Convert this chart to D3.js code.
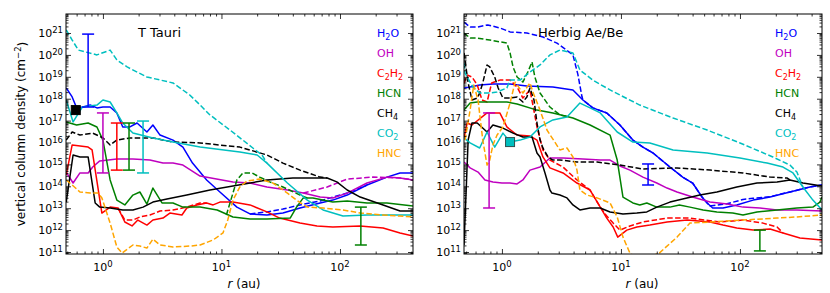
<!DOCTYPE html>
<html>
<head>
<meta charset="utf-8">
<script src="https://cdn.jsdelivr.net/npm/d3@7"></script>
<style>
  body { margin: 0; background: #fff; }
  text { font-family: "DejaVu Sans", sans-serif; }
</style>
</head>
<body>
<svg id="chart" width="830" height="293"></svg>
<script>
// values are [r (au), log10 N (cm^-2)]
const species = ["H2O", "OH", "C2H2", "HCN", "CH4", "CO2", "HNC"];
const speciesLabel = ["H_2O", "OH", "C_2H_2", "HCN", "CH_4", "CO_2", "HNC"];
const speciesColor = ["#0000ff", "#bf00bf", "#ff0000", "#008000", "#000000", "#00bfbf", "#ffa500"];
const yExponents = [11, 12, 13, 14, 15, 16, 17, 18, 19, 20, 21];
const xExponents = [0, 1, 2];

// ---- T Tauri ----
const ttH2O = [[0.49,18.49],[0.55,18.08],[0.60,17.58],[0.68,17.62],[0.78,17.71],[0.89,17.58],[1.0,17.62],[1.15,17.62],[1.31,17.35],[1.47,16.71],[1.69,16.71],[1.94,16.89],[2.35,16.48],[2.64,16.80],[3.03,16.34],[3.90,16.11],[4.73,15.79],[5.7,15.06],[7.5,14.29],[9.7,13.74],[13.5,13.05],[17.4,12.74],[24.2,12.69],[33,12.78],[46,13.01],[68,13.24],[87,13.37],[115,13.60],[169,14.06],[249,14.42],[321,14.61],[413,14.61]];
const ttH2Od = [[17.4,12.74],[24.2,12.83],[33,12.96],[46,13.15],[68,13.33],[87,13.51],[115,13.69],[169,14.06]];
const ttOH = [[0.49,14.65],[0.56,14.15],[0.64,14.61],[0.75,14.61],[0.82,14.88],[0.94,15.16],[1.31,15.25],[1.79,15.25],[2.49,15.20],[3.21,15.06],[3.90,15.06],[4.73,14.97],[6.6,14.47],[12.5,14.20],[17.4,14.15],[24.2,13.97],[36,13.83],[49,13.69],[68,13.51],[87,13.47],[115,13.69],[169,14.15],[249,14.42],[321,14.38],[413,14.29]];
const ttOHd = [[49,13.69],[78,13.97],[115,14.33],[190,14.42],[321,14.38],[413,14.29]];
const ttC2H2 = [[0.49,14.52],[0.55,15.89],[0.75,15.79],[0.81,15.66],[0.98,12.78],[1.15,13.05],[1.34,13.01],[1.53,12.37],[1.76,12.19],[1.97,12.46],[2.35,12.23],[2.64,12.46],[3.21,12.55],[3.67,12.78],[4.64,12.69],[5.1,13.01],[6.2,13.15],[7.5,13.24],[8.5,13.15],[9.7,13.28],[12.5,13.28],[17.4,13.15],[24.2,12.83],[31,12.55],[46,12.32],[64,12.19],[87,12.14],[148,12.19],[231,12.10],[321,11.87],[413,11.73]];
const ttC2H2d = [[1.34,13.01],[1.53,12.46],[1.79,12.46],[2.05,12.60],[2.49,12.69],[3.03,12.87],[3.90,12.92],[5.1,13.05],[6.6,13.24],[7.5,13.24]];
const ttHCN = [[0.49,16.94],[0.60,16.80],[0.75,16.89],[0.89,16.71],[1.0,16.11],[1.15,14.29],[1.31,13.37],[1.53,13.15],[1.79,13.60],[2.05,13.74],[2.35,13.19],[2.64,13.92],[3.15,13.24],[3.90,13.24],[4.73,13.05],[6.6,13.05],[9.2,12.92],[12.5,12.60],[17.4,12.51],[24.2,12.51],[38,12.55],[43,13.05],[49,13.47],[59,13.47],[87,13.28],[115,13.33],[169,13.24],[249,13.24],[413,13.10]];
const ttHCNd = [[11.0,12.69],[11.8,13.24],[13.5,14.29],[15.2,14.61],[18.1,14.61],[21,14.42],[25.6,14.20],[33,13.97],[46,13.60],[53,13.47]];
const ttCH4 = [[0.49,13.28],[0.56,15.43],[0.64,15.34],[0.75,15.34],[0.86,13.24],[0.94,13.05],[1.15,13.01],[1.47,12.92],[1.79,12.92],[2.18,13.05],[2.64,13.28],[3.47,13.42],[5.1,13.60],[8.0,13.83],[12.5,14.01],[24.2,14.29],[40,14.38],[64,14.38],[78,14.38],[94,14.20],[115,13.83],[148,13.51],[231,13.15],[321,12.87],[413,12.87]];
const ttCH4d = [[0.49,16.11],[0.55,16.48],[0.64,16.34],[0.82,16.43],[1.0,16.21],[1.15,15.89],[1.31,16.11],[1.69,16.21],[2.64,16.21],[3.90,16.02],[6.6,15.98],[14.3,15.79],[24.2,15.43],[33,15.06],[46,14.74],[68,14.42],[78,14.38]];
const ttCO2 = [[0.49,17.94],[0.56,16.94],[0.67,17.62],[0.89,17.71],[1.0,17.94],[1.15,17.85],[1.31,17.35],[1.47,16.89],[1.79,16.43],[2.64,16.21],[3.90,16.02],[6.6,15.79],[14.3,15.57],[20,15.43],[24.2,15.06],[36,14.15],[53,13.37],[72,12.92],[106,12.64],[169,12.69],[413,12.69]];
const ttCO2d = [[0.49,21.14],[0.55,20.68],[0.62,20.22],[0.89,20.0],[1.15,20.22],[1.31,19.77],[1.60,19.45],[2.35,18.99],[3.90,18.72],[5.4,18.17],[6.6,17.71],[8.0,17.26],[11.8,16.57],[18.4,15.75],[22,15.43],[24.2,15.06]];
const ttHNCd = [[0.49,14.29],[0.55,14.06],[0.64,13.74],[0.78,13.69],[0.91,13.69],[0.98,13.47],[1.15,12.32],[1.31,11.23],[1.45,10.95],[1.79,11.32],[2.05,11.27],[2.35,11.18],[2.64,11.59],[3.03,11.32],[3.90,11.23],[5.4,11.27],[6.6,11.32],[8.5,11.55],[10.3,11.87],[11.3,12.46],[12.5,13.37],[14.3,13.97],[16.4,14.24],[21,14.33],[27.2,14.15],[36,13.69],[43,13.37],[53,13.05],[72,13.01],[106,12.92],[148,12.78],[231,12.69],[321,12.64],[413,12.60]];
const ttErrors = [
  { sp: "H2O", r: 0.75, lo: 17.62, hi: 20.95 },
  { sp: "OH", r: 1.0, lo: 14.61, hi: 17.35 },
  { sp: "C2H2", r: 1.31, lo: 14.74, hi: 16.89 },
  { sp: "HCN", r: 1.66, lo: 14.74, hi: 16.89 },
  { sp: "CO2", r: 2.18, lo: 14.61, hi: 16.98 },
  { sp: "HCN", r: 150, lo: 11.32, hi: 13.05 }
];
const ttMarker = [0.59, 17.48];

// ---- Herbig Ae/Be ----
const haH2O = [[0.48,18.49],[0.54,18.53],[0.65,18.63],[0.84,18.67],[1.17,18.67],[1.62,18.58],[2.68,18.53],[3.95,18.40],[4.79,17.94],[5.8,17.58],[7.6,17.35],[9.8,16.8],[12.6,16.11],[15.3,15.79],[18.6,15.52],[25.8,14.88],[33,14.42],[40,14.15],[48,13.51],[53,13.24],[59,13.01],[72,13.01],[94,13.15],[129,13.37],[179,13.51],[263,13.74],[387,13.97],[489,14.06]];
const haH2Od = [[0.48,21.50],[0.54,21.27],[0.62,21.27],[0.76,21.37],[0.96,21.23],[1.17,21.05],[1.62,21.0],[2.21,20.82],[2.90,20.54],[3.95,20.0],[4.35,19.1],[4.70,18.1],[4.79,17.94],[5.8,17.58],[7.6,17.35],[9.8,16.8],[12.6,16.11],[15.3,15.79],[18.6,15.52],[25.8,14.88],[33,14.42],[40,14.15],[48,13.51],[53,13.24],[56,13.10],[78,13.2],[106,13.4],[129,13.45],[179,13.53],[263,13.74],[387,13.97],[489,14.06]];
const haOH = [[0.48,15.11],[0.54,14.84],[0.63,14.65],[0.72,14.29],[0.84,14.20],[1.0,14.15],[1.17,14.15],[1.34,14.11],[1.50,14.29],[1.72,14.74],[2.09,14.88],[2.53,15.29],[3.26,15.29],[4.79,15.25],[6.7,15.20],[8.1,15.20],[9.8,14.93],[11.9,14.74],[15.3,14.42],[20,14.15],[24.4,13.92],[29.6,13.74],[40,13.51],[56,13.28],[78,13.19],[106,13.05],[147,13.01],[205,12.92],[301,12.92],[489,12.87]];
const haC2H2 = [[0.48,16.2],[0.51,16.89],[0.56,16.80],[0.75,17.35],[0.96,17.35],[1.10,16.71],[1.34,16.34],[1.72,16.30],[1.97,16.11],[2.21,15.34],[2.53,14.84],[3.26,14.61],[4.27,14.15],[5.5,13.83],[6.7,13.05],[7.6,12.55],[8.6,12.14],[9.4,11.68],[11.2,12.0],[13.6,12.14],[17.5,12.23],[24.4,12.37],[36,12.46],[56,12.37],[72,12.23],[94,12.10],[129,12.0],[179,12.05],[230,11.87],[319,11.64],[489,11.55]];
const haC2H2d = [[0.48,18.7],[0.51,19.08],[0.56,18.99],[0.62,18.63],[0.68,17.94],[0.75,17.85],[0.82,18.72],[0.96,18.85],[1.17,18.85],[1.34,18.53],[1.50,18.03],[1.72,18.40],[1.82,17.71],[1.97,16.71],[2.21,15.66],[2.53,15.20],[3.26,14.88],[4.27,14.29],[5.5,13.83],[6.7,13.05],[7.6,12.64],[8.6,12.32],[9.8,12.00],[11.9,12.19],[15.3,12.37],[24.4,12.55],[38,12.55],[68,12.37],[106,12.46],[156,12.32],[205,12.14],[230,11.87]];
const haHCN = [[0.48,17.48],[0.54,17.80],[0.62,17.85],[0.84,17.85],[1.10,17.85],[1.34,17.76],[1.97,17.48],[2.68,17.35],[3.95,17.12],[5.5,16.80],[8.1,16.34],[9.3,15.20],[10.4,13.51],[12.6,13.24],[14.4,13.15],[16.5,13.24],[20,13.05],[25.8,13.05],[31,13.15],[38,13.05],[49,12.92],[64,12.83],[87,12.78],[106,12.69],[139,12.83],[205,12.92],[301,13.01],[410,13.05],[470,13.28],[489,13.51]];
const haHCNd = [[0.48,21.0],[0.54,20.77],[0.62,20.77],[0.79,20.68],[1.10,20.54],[1.17,20.09],[1.24,19.45],[1.34,18.99],[1.50,18.76],[1.65,19.22],[1.79,19.68],[1.89,18.99],[2.09,18.26],[2.53,17.62],[3.07,17.26],[3.52,17.2]];
const haCH4 = [[0.48,11.32],[0.52,16.11],[0.56,16.89],[0.62,16.89],[0.75,16.48],[0.84,16.80],[1.02,16.66],[1.24,16.43],[1.50,16.25],[1.79,16.25],[1.97,15.52],[2.09,15.34],[2.30,14.61],[2.53,13.83],[2.63,13.69],[3.07,13.60],[3.52,13.47],[3.95,13.15],[4.52,12.92],[5.5,13.01],[6.7,13.01],[8.1,12.83],[10.4,12.74],[13.6,12.78],[16.5,12.83],[20,13.05],[25.8,13.28],[33,13.42],[46,13.60],[64,13.74],[94,13.97],[139,14.15],[205,14.20],[263,14.29],[338,14.15],[489,14.01]];
const haCH4d = [[0.48,20.09],[0.52,18.72],[0.56,17.94],[0.62,18.03],[0.65,18.26],[0.69,18.72],[0.75,19.54],[0.79,19.45],[0.87,18.99],[0.93,18.49],[1.02,18.03],[1.17,18.03],[1.34,18.08],[1.50,17.85],[1.62,18.08],[1.72,18.49],[1.86,17.94],[1.97,16.89],[2.09,16.11],[2.21,15.75],[2.44,15.34],[2.68,15.20],[3.07,15.20],[4.27,15.11],[6.3,15.11],[9.8,14.97],[15.3,14.79],[29.6,14.84],[56,14.74],[106,14.61],[179,14.42],[248,14.38],[263,14.29]];
const haCO2 = [[0.48,16.21],[0.54,15.98],[0.65,15.75],[0.75,16.48],[0.87,15.79],[1.02,16.43],[1.17,16.02],[1.42,16.11],[1.72,16.25],[2.09,16.71],[2.68,17.03],[3.52,17.16],[4.52,17.80],[5.5,17.58],[6.7,17.35],[9.3,16.48],[12.6,16.02],[17.5,15.98],[27.4,15.66],[53,15.52],[100,15.29],[169,15.06],[230,14.88],[279,14.61],[338,13.97],[410,13.37],[489,12.92]];
const haCO2d = [[0.48,19.63],[0.49,19.17],[0.57,18.53],[0.65,18.26],[0.79,18.26],[0.91,18.31],[1.10,18.49],[1.17,18.85],[1.42,18.85],[1.72,19.22],[2.09,19.54],[2.53,20.0],[3.07,20.22],[3.95,20.09],[4.52,19.31],[5.8,18.85],[8.1,18.40],[9.8,18.17],[14.4,17.71],[27.4,17.12],[53,16.57],[100,15.98],[189,15.34],[263,14.97],[301,14.65],[338,13.97]];
const haHNCd = [[0.49,16.11],[0.54,17.48],[0.58,18.63],[0.63,17.94],[0.69,16.11],[0.75,14.97],[0.79,15.20],[0.84,15.89],[0.91,16.34],[1.02,16.71],[1.17,17.80],[1.29,18.76],[1.50,18.26],[1.72,18.72],[1.82,18.31],[2.09,17.48],[2.39,16.57],[3.07,15.66],[3.52,15.75],[3.95,15.34],[4.27,14.74],[4.52,13.83],[5.2,13.60],[6.3,13.47],[8.1,13.24],[9.3,12.60],[10.4,11.68],[11.9,10.95],[14.4,10.6],[21,10.95],[29.6,11.68],[38,12.32],[56,12.37],[106,12.46],[205,12.55],[301,12.60],[489,12.69]];
const haErrors = [
  { sp: "OH", r: 0.78, lo: 13.01, hi: 17.35 },
  { sp: "H2O", r: 16.9, lo: 14.06, hi: 15.02 },
  { sp: "HCN", r: 147, lo: 11.05, hi: 12.0 }
];
const haMarker = [1.17, 16.02];

// ---- layout ----
const plotTop = 14, plotBottom = 254;
const yDomain = [10 ** 10.909, 10 ** 21.868];

const panels = [
  {
    title: "T Tauri", left: 66, right: 413, xDomain: [0.488, 413], titleX: 138, legendX: 377, xLabelX: 244,
    solid: { H2O: ttH2O, OH: ttOH, C2H2: ttC2H2, HCN: ttHCN, CH4: ttCH4, CO2: ttCO2 },
    dashed: { H2O: ttH2Od, OH: ttOHd, C2H2: ttC2H2d, HCN: ttHCNd, CH4: ttCH4d, CO2: ttCO2d, HNC: ttHNCd },
    errors: ttErrors, marker: ttMarker, markerFill: "#000000", markerStroke: "#000000", yTitle: true
  },
  {
    title: "Herbig Ae/Be", left: 464, right: 822, xDomain: [0.48, 489], titleX: 538, legendX: 775, xLabelX: 642,
    solid: { H2O: haH2O, OH: haOH, C2H2: haC2H2, HCN: haHCN, CH4: haCH4, CO2: haCO2 },
    dashed: { H2O: haH2Od, C2H2: haC2H2d, HCN: haHCNd, CH4: haCH4d, CO2: haCO2d, HNC: haHNCd },
    errors: haErrors, marker: haMarker, markerFill: "#00bfbf", markerStroke: "#2f4f4f", yTitle: false
  }
];

const svg = d3.select("#chart");
const defs = svg.append("defs");

function colorOf(sp) { return speciesColor[species.indexOf(sp)]; }

function supLabel(sel, base, exp) {
  sel.text(base);
  sel.append("tspan").attr("dy", "-0.45em").attr("font-size", "8.5px").text(exp);
}

panels.forEach((p, pi) => {
  const x = d3.scaleLog().domain(p.xDomain).range([p.left, p.right]);
  const y = d3.scaleLog().domain(yDomain).range([plotBottom, plotTop]);
  const line = d3.line().x(d => x(d[0])).y(d => y(10 ** d[1]));

  const clipId = `clip${pi}`;
  defs.append("clipPath").attr("id", clipId).append("rect")
    .attr("x", p.left).attr("y", plotTop)
    .attr("width", p.right - p.left).attr("height", plotBottom - plotTop);

  const plot = svg.append("g").attr("clip-path", `url(#${clipId})`);

  species.forEach(sp => {
    if (p.solid[sp]) plot.append("path")
      .attr("d", line(p.solid[sp]))
      .attr("fill", "none").attr("stroke", colorOf(sp))
      .attr("stroke-width", 1.5).attr("stroke-linejoin", "round");
    if (p.dashed[sp]) plot.append("path")
      .attr("d", line(p.dashed[sp]))
      .attr("fill", "none").attr("stroke", colorOf(sp))
      .attr("stroke-width", 1.5).attr("stroke-dasharray", "5.5,2.4")
      .attr("stroke-linejoin", "round");
  });

  // error bars
  p.errors.forEach(e => {
    const g = plot.append("g").attr("stroke", colorOf(e.sp)).attr("stroke-width", 1.5);
    const cx = x(e.r), y0 = y(10 ** e.lo), y1 = y(10 ** e.hi);
    g.append("line").attr("x1", cx).attr("x2", cx).attr("y1", y0).attr("y2", y1);
    g.append("line").attr("x1", cx - 6).attr("x2", cx + 6).attr("y1", y0).attr("y2", y0);
    g.append("line").attr("x1", cx - 6).attr("x2", cx + 6).attr("y1", y1).attr("y2", y1);
  });

  // square marker
  plot.append("rect")
    .attr("x", x(p.marker[0]) - 4.5).attr("y", y(10 ** p.marker[1]) - 4.5)
    .attr("width", 9).attr("height", 9)
    .attr("fill", p.markerFill).attr("stroke", p.markerStroke).attr("stroke-width", 1);

  // frame
  svg.append("rect")
    .attr("x", p.left).attr("y", plotTop)
    .attr("width", p.right - p.left).attr("height", plotBottom - plotTop)
    .attr("fill", "none").attr("stroke", "#000").attr("stroke-width", 1);

  // ticks, inward on all sides
  const xMajor = xExponents.map(e => 10 ** e);
  const xMinor = [];
  for (let e = -1; e <= 2; e++) for (let k = 2; k <= 9; k++) {
    const v = k * 10 ** e;
    if (v >= p.xDomain[0] && v <= p.xDomain[1]) xMinor.push(v);
  }
  const yMajor = yExponents.map(e => 10 ** e);
  const yMinor = [];
  for (let e = 10; e <= 21; e++) for (let k = 2; k <= 9; k++) {
    const v = k * 10 ** e;
    if (v >= yDomain[0] && v <= yDomain[1]) yMinor.push(v);
  }

  const axes = [
    [d3.axisBottom(x), `translate(0,${plotBottom})`, xMajor, xMinor],
    [d3.axisTop(x), `translate(0,${plotTop})`, xMajor, xMinor],
    [d3.axisLeft(y), `translate(${p.left},0)`, yMajor, yMinor],
    [d3.axisRight(y), `translate(${p.right},0)`, yMajor, yMinor]
  ];
  axes.forEach(([axis, tr, major, minor]) => {
    [[major, 5], [minor, 2.5]].forEach(([vals, len]) => {
      const g = svg.append("g").attr("transform", tr)
        .call(axis.tickValues(vals).tickSizeInner(-len).tickSizeOuter(0).tickFormat(""));
      g.select(".domain").remove();
      g.selectAll("line").attr("stroke", "#000").attr("stroke-width", 0.8);
    });
  });

  // tick labels
  yExponents.forEach(e => {
    svg.append("text")
      .attr("x", p.left - 3).attr("y", y(10 ** e)).attr("dy", "0.36em")
      .attr("text-anchor", "end").attr("font-size", "11px")
      .call(t => supLabel(t, "10", e));
  });
  xExponents.forEach(e => {
    svg.append("text")
      .attr("x", x(10 ** e)).attr("y", 271)
      .attr("text-anchor", "middle").attr("font-size", "11px")
      .call(t => supLabel(t, "10", e));
  });

  // x label
  const xl = svg.append("text").attr("x", p.xLabelX).attr("y", 288)
    .attr("text-anchor", "middle").attr("font-size", "12px");
  xl.append("tspan").attr("font-style", "italic").text("r");
  xl.append("tspan").text(" (au)");

  // title
  svg.append("text").attr("x", p.titleX).attr("y", 37)
    .attr("font-size", "13px").text(p.title);

  // legend labels
  speciesLabel.forEach((lab, i) => {
    const t = svg.append("text").attr("x", p.legendX).attr("y", 37 + 20 * i)
      .attr("font-size", "11px").attr("fill", speciesColor[i]);
    const parts = lab.split(/(_\d)/).filter(s => s.length);
    let shifted = false;
    parts.forEach(part => {
      if (part[0] === "_") {
        t.append("tspan").attr("dy", 3).attr("font-size", "8px").text(part.slice(1));
        shifted = true;
      } else {
        t.append("tspan").attr("dy", shifted ? -3 : 0).text(part);
        shifted = false;
      }
    });
  });

  if (p.yTitle) {
    const yt = svg.append("text")
      .attr("transform", `translate(25,${(plotTop + plotBottom) / 2}) rotate(-90)`)
      .attr("text-anchor", "middle").attr("font-size", "12px")
      .text("vertical column density (cm");
    yt.append("tspan").attr("dy", "-0.45em").attr("font-size", "8.5px").text("\u22122");
    yt.append("tspan").attr("dy", "0.45em").text(")");
  }
});
</script>
</body>
</html>
